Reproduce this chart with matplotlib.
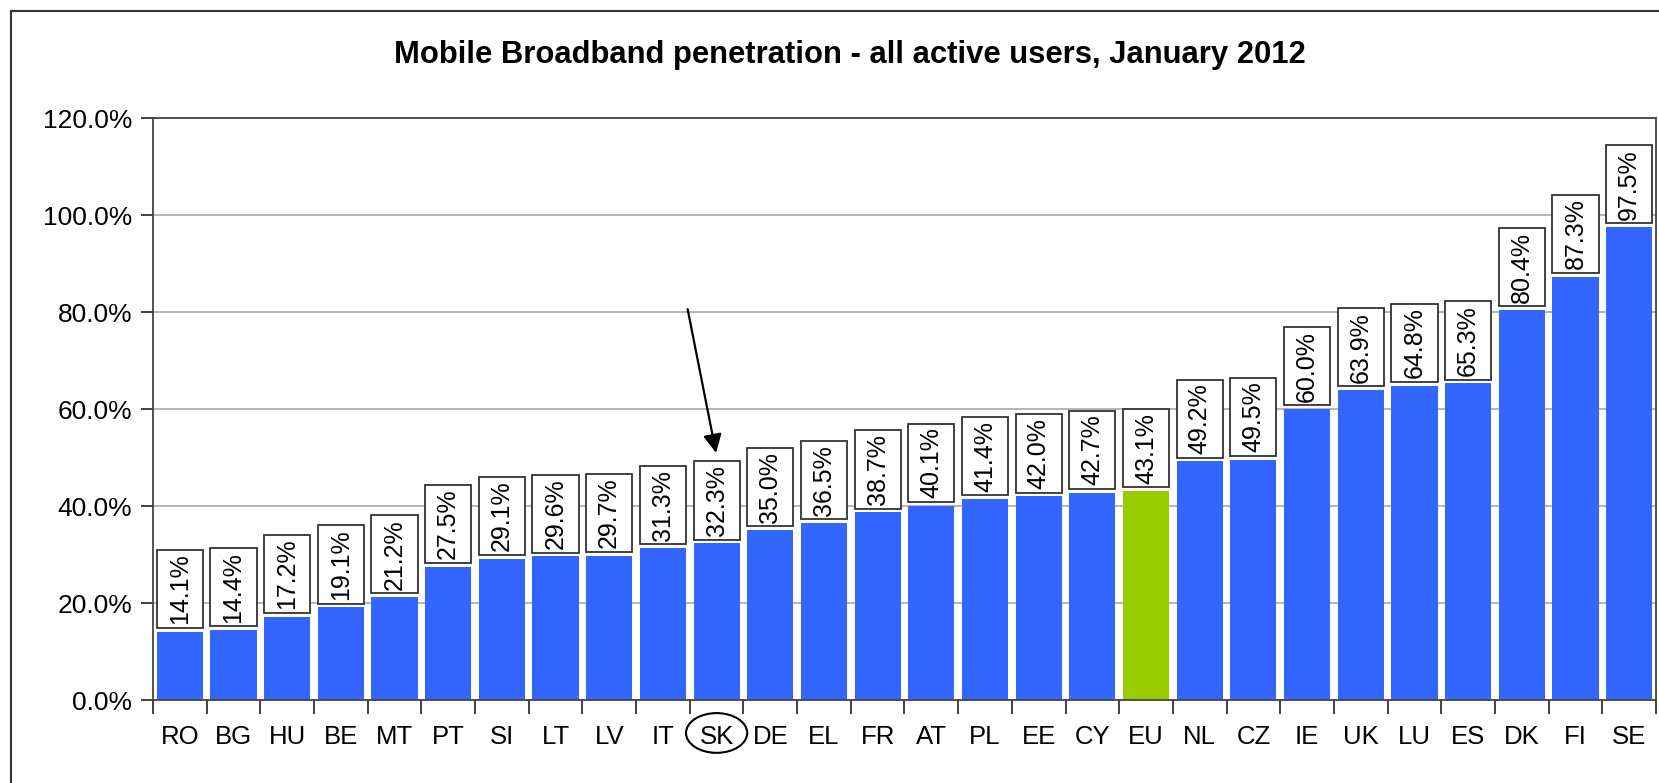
import matplotlib.pyplot as plt
from matplotlib.patches import Rectangle, Ellipse

plt.rcParams['font.family'] = ['Liberation Sans', 'DejaVu Sans']

# data
countries = ["RO", "BG", "HU", "BE", "MT", "PT", "SI", "LT", "LV", "IT", "SK", "DE", "EL", "FR",
             "AT", "PL", "EE", "CY", "EU", "NL", "CZ", "IE", "UK", "LU", "ES", "DK", "FI", "SE"]
values = [14.1, 14.4, 17.2, 19.1, 21.2, 27.5, 29.1, 29.6, 29.7, 31.3, 32.3, 35.0, 36.5, 38.7,
          40.1, 41.4, 42.0, 42.7, 43.1, 49.2, 49.5, 60.0, 63.9, 64.8, 65.3, 80.4, 87.3, 97.5]
y_ticks = [0, 20, 40, 60, 80, 100, 120]
highlight = "SK"
average = "EU"

blue = "#3366FF"
green = "#99CC00"
colors = [green if c == average else blue for c in countries]

fig = plt.figure(figsize=(16.59, 7.83), dpi=100)
ax = fig.add_axes([0.0922, 0.106, 0.9060, 0.743])

x = list(range(len(countries)))
bar_w = 0.86
ax.bar(x, values, width=bar_w, color=colors, zorder=2)

# value boxes above the bars
gap = 0.8
box_h = 16.1
for i, v in zip(x, values):
    ax.add_patch(Rectangle((i - bar_w / 2, v + gap), bar_w, box_h, facecolor="white",
                           edgecolor="#333333", linewidth=1.3, zorder=3))
    ax.text(i, v + gap + box_h / 2, "%.1f%%" % v, rotation=90, ha="center", va="center",
            fontsize=18, zorder=4)

ax.set_xlim(-0.5, len(countries) - 0.5)
ax.set_ylim(0, 120)

ax.set_yticks(y_ticks)
ax.set_yticklabels(["%.1f%%" % t for t in y_ticks], fontsize=19)
ax.yaxis.grid(True, color="#a8a8a8", linewidth=1.2, zorder=0)
ax.set_axisbelow(True)

ax.set_xticks([i - 0.5 for i in range(len(countries) + 1)])
ax.set_xticklabels([])
ax.set_xticks(x, minor=True)
ax.set_xticklabels(countries, minor=True, fontsize=18.5)
ax.tick_params(axis="x", which="major", length=10, width=1.3, color="#333333")
ax.tick_params(axis="x", which="minor", length=0, pad=18)
ax.tick_params(axis="y", length=9, width=1.3, color="#333333", pad=6)

for s in ax.spines.values():
    s.set_color("#444444")
    s.set_linewidth(1.3)

# circle and arrow pointing at SK
k = countries.index(highlight)
ax.add_patch(Ellipse((k, -6.8), 1.14, 8.2, transform=ax.transData, fill=False,
                     edgecolor="black", linewidth=1.5, clip_on=False))
ax.annotate("", xy=(k, values[k] + gap + box_h + 1.2), xytext=(k - 0.55, 81.2),
            arrowprops=dict(arrowstyle="-|>", color="black", lw=1.6, mutation_scale=28))

fig.text(0.512, 0.93, "Mobile Broadband penetration - all active users, January 2012",
         ha="center", va="center", fontsize=22.3, fontweight="bold")

# outer frame
fig.patches.append(Rectangle((11 / 1659, -0.1), 1.2, 1.1 - 11 / 783, transform=fig.transFigure,
                             fill=False, edgecolor="#333333", linewidth=1.5))

plt.savefig("out.png", dpi=100)
